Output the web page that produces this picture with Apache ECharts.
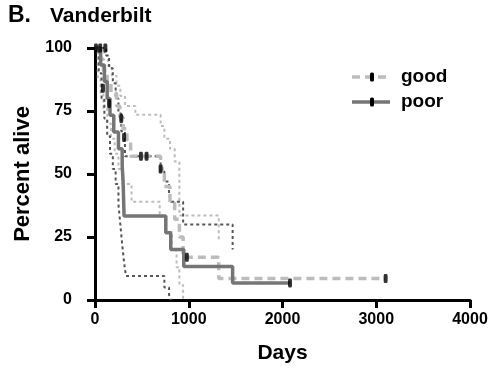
<!DOCTYPE html>
<html>
<head>
<meta charset="utf-8">
<script src="https://cdn.jsdelivr.net/npm/echarts@6/dist/echarts.min.js"></script>
<style>
html,body{margin:0;padding:0;background:#fff;}
#c{width:495px;height:369px;}
</style>
</head>
<body>
<div id="c"></div>
<script>
// ---- data (days, percent alive) ----
var goodDays = [0, 60, 90, 130, 170, 230, 265, 300, 340, 380, 700, 740, 800, 850, 900, 940, 1320, 3100];
var goodVals = [100, 95.5, 91, 86.5, 82, 77, 72.5, 68, 63, 57, 52, 45, 38.5, 32, 25, 17, 8.5, 8.5];

var goodUpDays = [0, 60, 100, 140, 180, 230, 270, 320, 430, 700, 740, 800, 850, 900, 1320];
var goodUpVals = [100, 100, 97, 93, 89, 85, 81, 77, 73.5, 69, 64, 60, 55, 33.5, 24];

var goodLoDays = [0, 30, 60, 90, 130, 170, 210, 250, 290, 390, 690, 760, 820, 870, 900, 940];
var goodLoVals = [100, 88, 82, 76, 70, 64, 58, 52, 46, 39, 33, 27, 20, 13, 6, 0];

var poorDays = [0, 60, 100, 130, 160, 200, 250, 290, 300, 305, 310, 755, 808, 947, 1468, 2080];
var poorVals = [100, 93.3, 86.7, 80, 73.3, 66.7, 60, 53.3, 46.7, 40, 33.3, 26.7, 20, 13.3, 6.7, 6.7];

var poorUpDays = [0, 120, 150, 190, 220, 250, 280, 320, 700, 740, 790, 810, 940, 1468];
var poorUpVals = [100, 97, 92, 86, 80, 74, 67, 57, 51, 47, 42, 39, 30, 20];

var poorLoDays = [0, 40, 70, 100, 130, 160, 190, 220, 250, 270, 290, 310, 330, 740, 790, 808];
var poorLoVals = [100, 90, 80, 72, 65, 58, 52, 46, 38, 30, 22, 15, 9.5, 5, 2, 0];

var goodCensorDays = [10, 55, 110, 85, 150, 280, 310, 490, 550, 700, 980, 3100];
var goodCensorVals = [100, 100, 100, 84, 78, 72, 64.5, 57, 57, 52, 17, 8.5];
var poorCensorDays = [2080];
var poorCensorVals = [6.7];

var xTicks = [0, 1000, 2000, 3000, 4000];
var yTicks = [0, 25, 50, 75, 100];

function zip(a, b) { return a.map(function (v, i) { return [v, b[i]]; }); }

var FONT = '"Liberation Sans", Arial, sans-serif';
var LIGHT = '#bcbcbc', DARK = '#757575', DARKCI = '#555555';

var chart = echarts.init(document.getElementById('c'), null, {renderer: 'canvas'});
var option = {
  animation: false,
  backgroundColor: '#fff',
  grid: {left: 95, right: 25, top: 48, bottom: 67},
  xAxis: {
    type: 'value', min: xTicks[0], max: xTicks[xTicks.length - 1], interval: 1000,
    name: 'Days', nameLocation: 'middle', nameGap: 43,
    nameTextStyle: {fontFamily: FONT, fontWeight: 'bold', fontSize: 21, color: '#000'},
    axisLine: {lineStyle: {color: '#000', width: 3}},
    axisTick: {length: 8, lineStyle: {color: '#000', width: 3}},
    axisLabel: {fontFamily: FONT, fontWeight: 'bold', fontSize: 16, color: '#000', margin: 12,
      formatter: function (v) { return String(v); }},
    splitLine: {show: false}
  },
  yAxis: {
    type: 'value', min: yTicks[0], max: yTicks[yTicks.length - 1], interval: 25,
    name: 'Percent alive', nameLocation: 'middle', nameGap: 54,
    nameTextStyle: {fontFamily: FONT, fontWeight: 'bold', fontSize: 22, color: '#000'},
    axisLine: {show: true, lineStyle: {color: '#000', width: 3}},
    axisTick: {show: true, length: 8, lineStyle: {color: '#000', width: 3}},
    axisLabel: {fontFamily: FONT, fontWeight: 'bold', fontSize: 16, color: '#000', margin: 23,
      formatter: function (v) { return String(v); }},
    splitLine: {show: false}
  },
  series: [
    {type: 'line', step: 'end', showSymbol: false, data: zip(goodUpDays, goodUpVals),
     lineStyle: {color: LIGHT, width: 2, type: [3, 3]}, z: 2},
    {type: 'line', step: 'end', showSymbol: false, data: zip(goodLoDays, goodLoVals),
     lineStyle: {color: LIGHT, width: 2, type: [3, 3]}, z: 2},
    {type: 'line', step: 'end', showSymbol: false, data: zip(poorUpDays, poorUpVals),
     lineStyle: {color: DARKCI, width: 2, type: [3, 3]}, z: 3},
    {type: 'line', step: 'end', showSymbol: false, data: zip(poorLoDays, poorLoVals),
     lineStyle: {color: DARKCI, width: 2, type: [3, 3]}, z: 3},
    {type: 'line', step: 'end', showSymbol: false, data: zip(goodDays, goodVals),
     lineStyle: {color: LIGHT, width: 3.5, type: [8, 5]}, z: 4},
    {type: 'line', step: 'end', showSymbol: false, data: zip(poorDays, poorVals),
     lineStyle: {color: DARK, width: 3.5, type: 'solid'}, z: 5},
    {type: 'scatter', data: zip(goodCensorDays, goodCensorVals), symbol: 'roundRect',
     symbolSize: [4, 9], itemStyle: {color: '#000'}, z: 10},
    {type: 'scatter', data: zip(poorCensorDays, poorCensorVals), symbol: 'roundRect',
     symbolSize: [4, 9], itemStyle: {color: '#000'}, z: 10}
  ],
  graphic: [
    {type: 'text', left: 8, top: 4, style: {text: 'B.', font: 'bold 23px ' + FONT, fill: '#000'}},
    {type: 'text', left: 50, top: 6, style: {text: 'Vanderbilt', font: 'bold 21px ' + FONT, fill: '#000'}},
    {type: 'line', shape: {x1: 352, y1: 77, x2: 390, y2: 77}, style: {stroke: LIGHT, lineWidth: 3.5, lineDash: [8, 5]}},
    {type: 'rect', shape: {x: 370, y: 72.5, width: 4, height: 9, r: 1.5}, style: {fill: '#000'}},
    {type: 'text', x: 401, y: 77, style: {text: 'good', font: 'bold 19px ' + FONT, fill: '#000', textVerticalAlign: 'middle'}},
    {type: 'line', shape: {x1: 352, y1: 102, x2: 390, y2: 102}, style: {stroke: DARK, lineWidth: 3.5}},
    {type: 'rect', shape: {x: 370, y: 97.5, width: 4, height: 9, r: 1.5}, style: {fill: '#000'}},
    {type: 'text', x: 401, y: 102, style: {text: 'poor', font: 'bold 19px ' + FONT, fill: '#000', textVerticalAlign: 'middle'}}
  ]
};
chart.setOption(option);
</script>
</body>
</html>
